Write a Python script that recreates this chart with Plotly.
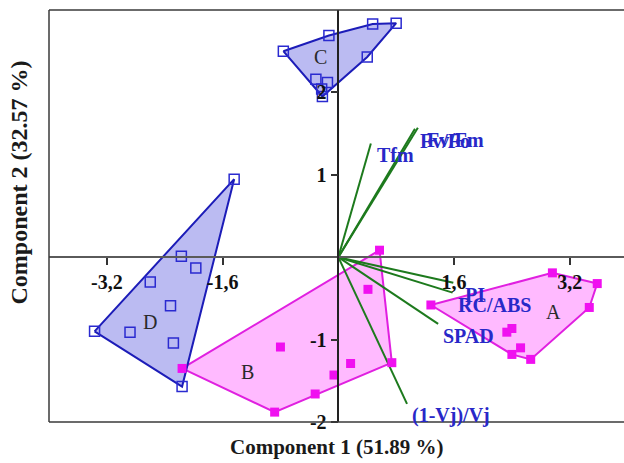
import plotly.graph_objects as go

# ---- sample scores on the first two principal components ----
group_a_x = [1.28, 2.96, 3.58, 3.47, 2.40, 2.33, 2.52, 2.40, 2.66]
group_a_y = [-0.58, -0.19, -0.32, -0.61, -0.865, -0.91, -1.10, -1.18, -1.24]

group_b_x = [-2.16, -0.80, -0.88, -0.32, -0.06, 0.17, 0.74, 0.41, 0.57]
group_b_y = [-1.35, -1.09, -1.88, -1.66, -1.43, -1.29, -1.28, -0.39, 0.085]

group_c_x = [-0.76, -0.13, 0.475, 0.80, 0.40, -0.31, -0.15, -0.23, -0.22]
group_c_y = [2.50, 2.69, 2.83, 2.84, 2.43, 2.16, 2.12, 2.04, 1.95]

group_d_x = [-1.44, -2.17, -1.97, -2.60, -2.32, -2.88, -3.37, -2.28, -2.16]
group_d_y = [0.947, 0.012, -0.13, -0.30, -0.59, -0.91, -0.90, -1.04, -1.57]

group_names = ["A", "B", "C", "D"]
group_label_x = [2.97, -1.25, -0.24, -2.61]
group_label_y = [-0.66, -1.39, 2.43, -0.785]

# ---- variable loadings (biplot vectors) ----
var_names = ["Tfm", "Fv/Fo", "Fv/Fm", "PI", "RC/ABS", "SPAD", "(1-Vj)/Vj"]
var_x = [0.45, 1.06, 1.10, 1.59, 1.58, 1.38, 0.95]
var_y = [1.38, 1.56, 1.57, -0.31, -0.43, -0.81, -1.78]
var_label_dx = [4, 3, 7, 10, 3, 3, 3]

# ---- axes ----
x_range = [-4.0, 3.95]
y_range = [-2.0, 3.0]
x_tickvals = [-3.2, -1.6, 1.6, 3.2]
x_ticktext = ["-3,2", "-1,6", "1,6", "3,2"]
y_tickvals = [2, 1, -1, -2]
y_ticktext = ["2", "1", "-1", "-2"]
x_title = "Component 1 (51.89 %)"
y_title = "Component 2 (32.57 %)"

SERIF = "Liberation Serif, Times New Roman, serif"
BLUE_EDGE = "#1c1cb8"
BLUE_FILL = "rgba(120,120,230,0.5)"
BLUE_MARK = "#2a2ad0"
MAG_EDGE = "#e020e0"
MAG_FILL = "rgba(255,140,255,0.6)"
MAG_MARK = "#f010f0"
GREEN = "#1d7a1d"
TEXT_BLUE = "#2828c8"


def convex_hull(xs, ys):
    pts = sorted(set(zip(xs, ys)))

    def cross(o, a, b):
        return (a[0] - o[0]) * (b[1] - o[1]) - (a[1] - o[1]) * (b[0] - o[0])

    lower, upper = [], []
    for p in pts:
        while len(lower) >= 2 and cross(lower[-2], lower[-1], p) <= 0:
            lower.pop()
        lower.append(p)
    for p in reversed(pts):
        while len(upper) >= 2 and cross(upper[-2], upper[-1], p) <= 0:
            upper.pop()
        upper.append(p)
    hull = lower[:-1] + upper[:-1]
    hull.append(hull[0])
    return [p[0] for p in hull], [p[1] for p in hull]


fig = go.Figure()

groups = [
    (group_b_x, group_b_y, MAG_EDGE, MAG_FILL),
    (group_a_x, group_a_y, MAG_EDGE, MAG_FILL),
    (group_d_x, group_d_y, BLUE_EDGE, BLUE_FILL),
    (group_c_x, group_c_y, BLUE_EDGE, BLUE_FILL),
]
for gx, gy, edge, fill in groups:
    hx, hy = convex_hull(gx, gy)
    fig.add_trace(go.Scatter(x=hx, y=hy, mode="lines", fill="toself",
                             fillcolor=fill, line=dict(color=edge, width=2),
                             hoverinfo="skip", showlegend=False))

# loading vectors from the origin
for vx, vy in zip(var_x, var_y):
    fig.add_trace(go.Scatter(x=[0, vx], y=[0, vy], mode="lines",
                             line=dict(color=GREEN, width=2),
                             hoverinfo="skip", showlegend=False))

# sample markers
for gx, gy in [(group_d_x, group_d_y), (group_c_x, group_c_y)]:
    fig.add_trace(go.Scatter(x=gx, y=gy, mode="markers",
                             marker=dict(symbol="square-open", size=10,
                                         color=BLUE_MARK, line=dict(width=1.5)),
                             showlegend=False))
for gx, gy in [(group_b_x, group_b_y), (group_a_x, group_a_y)]:
    fig.add_trace(go.Scatter(x=gx, y=gy, mode="markers",
                             marker=dict(symbol="square", size=9, color=MAG_MARK),
                             showlegend=False))

annotations = []
for name, vx, vy, dx in zip(var_names, var_x, var_y, var_label_dx):
    annotations.append(dict(x=vx, y=vy, text=name, showarrow=False,
                            xanchor="left", yanchor="middle", xshift=dx, yshift=-12,
                            font=dict(family=SERIF, size=20, color=TEXT_BLUE, weight="bold")))
for name, lx, ly in zip(group_names, group_label_x, group_label_y):
    annotations.append(dict(x=lx, y=ly, text=name, showarrow=False,
                            font=dict(family=SERIF, size=20, color="#2a2a2a")))
annotations.append(dict(x=0.5, y=-0.06, xref="paper", yref="paper", text=x_title,
                        showarrow=False, xanchor="center", yanchor="middle",
                        font=dict(family=SERIF, size=21, color="#1a1a1a", weight="bold")))
annotations.append(dict(x=-0.0513, y=0.58, xref="paper", yref="paper", text=y_title,
                        showarrow=False, textangle=-90, xanchor="center", yanchor="middle",
                        font=dict(family=SERIF, size=24, color="#1a1a1a", weight="bold")))

x_pos = (0 - y_range[0]) / (y_range[1] - y_range[0])
y_pos = (0 - x_range[0]) / (x_range[1] - x_range[0])

frame = dict(type="line", xref="paper", yref="paper",
             line=dict(color="#3a3a3a", width=1.5))
shapes = [
    dict(frame, x0=0, x1=0, y0=0, y1=1),
    dict(frame, x0=0, x1=1, y0=1, y1=1),
    dict(frame, x0=0, x1=1, y0=0, y1=0),
]

fig.update_layout(
    width=624, height=463,
    margin=dict(l=49, r=0, t=10, b=41),
    paper_bgcolor="white", plot_bgcolor="white",
    showlegend=False,
    annotations=annotations,
    shapes=shapes,
    xaxis=dict(range=x_range, anchor="free", position=x_pos,
               showgrid=False, zeroline=False, showline=True,
               linecolor="#5a5a5a", linewidth=2,
               ticks="outside", ticklen=7, tickwidth=1.5, tickcolor="#333",
               tickvals=x_tickvals, ticktext=x_ticktext,
               tickfont=dict(family=SERIF, size=20, color="#111", weight="bold")),
    yaxis=dict(range=y_range, anchor="free", position=y_pos,
               showgrid=False, zeroline=False, showline=True,
               linecolor="#222", linewidth=1.5,
               ticks="outside", ticklen=7, tickwidth=1.5, tickcolor="#333",
               tickvals=y_tickvals, ticktext=y_ticktext,
               tickfont=dict(family=SERIF, size=20, color="#111", weight="bold")),
)

fig.write_html("out.html")
